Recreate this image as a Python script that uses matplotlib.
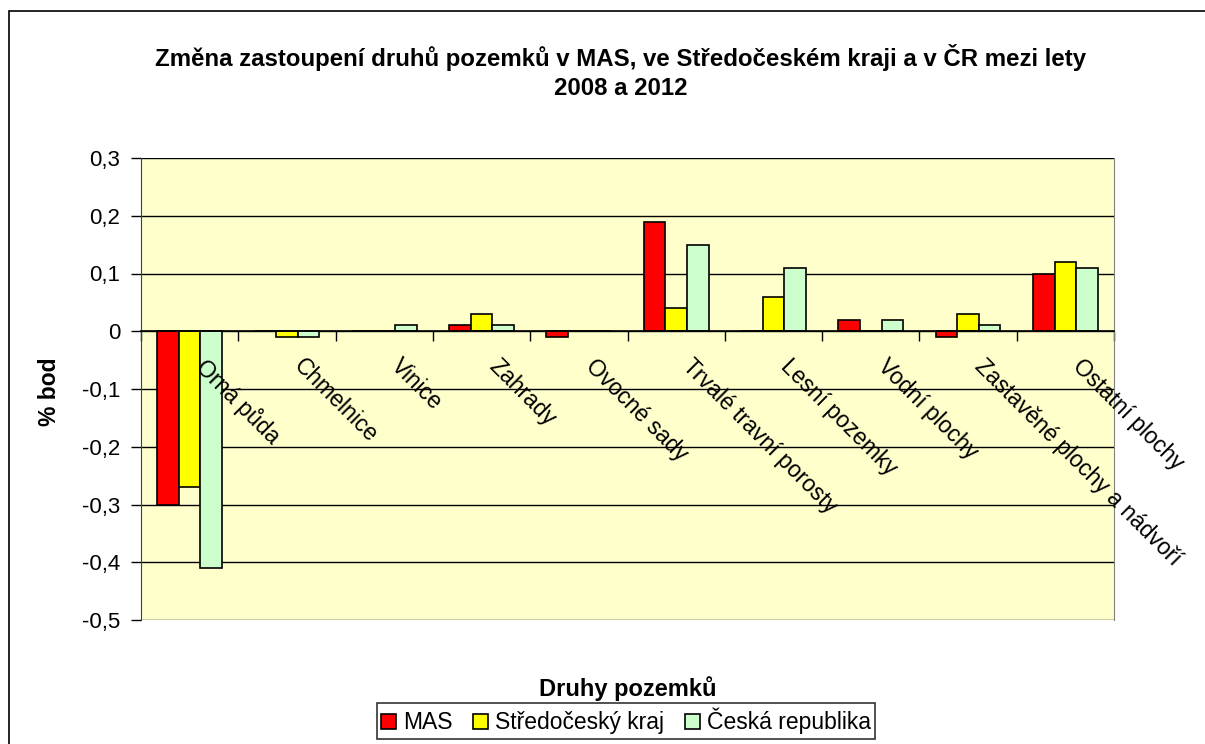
import matplotlib
matplotlib.use('Agg')
import matplotlib.pyplot as plt
import numpy as np
from matplotlib.patches import Rectangle
from matplotlib.ticker import FuncFormatter

plt.rcParams['font.family'] = ['Liberation Sans', 'DejaVu Sans']

# Data
categories = ['Orná půda', 'Chmelnice', 'Vinice', 'Zahrady', 'Ovocné sady',
              'Trvalé travní porosty', 'Lesní pozemky', 'Vodní plochy',
              'Zastavěné plochy a nádvoří', 'Ostatní plochy']
series_names = ['MAS', 'Středočeský kraj', 'Česká republika']
mas = [-0.30, 0.00, 0.00, 0.01, -0.01, 0.19, 0.00, 0.02, -0.01, 0.10]
stredocesky = [-0.27, -0.01, 0.00, 0.03, 0.00, 0.04, 0.06, 0.00, 0.03, 0.12]
cr = [-0.41, -0.01, 0.01, 0.01, 0.00, 0.15, 0.11, 0.02, 0.01, 0.11]
colors = ['#FF0000', '#FFFF00', '#CCFFCC']

title = 'Změna zastoupení druhů pozemků v MAS, ve Středočeském kraji a v ČR mezi lety\n2008 a 2012'


def fmt_tick(v, pos):
    v = round(v, 1) + 0.0
    if v == 0:
        return '0'
    return ('%g' % v).replace('.', ',')


W, H = 1205, 744
fig = plt.figure(figsize=(W / 100, H / 100), dpi=100)
ax = fig.add_axes([141 / W, 1 - 620 / H, (1114 - 141) / W, (620 - 158) / H])
ax.set_facecolor('#FFFFCC')

# outer chart frame
fig.patches.append(Rectangle((9 / W, -0.1), 1.2, 1.1 - 11 / H, transform=fig.transFigure,
                             fill=False, edgecolor='black', linewidth=1.2))

x = np.arange(len(categories))
w = 0.222
for k, (vals, name) in enumerate(zip([mas, stredocesky, cr], series_names)):
    ax.bar(x + (k - 1) * w, vals, w, color=colors[k], edgecolor='black',
           linewidth=1.2, label=name, zorder=3)

ax.set_xlim(-0.5, len(categories) - 0.5)
ax.set_ylim(-0.5, 0.3)
yt = np.round(np.arange(-0.5, 0.31, 0.1), 1)
ax.set_yticks(yt)
ax.yaxis.set_major_formatter(FuncFormatter(fmt_tick))
for v in yt:
    ax.axhline(v, color='black', linewidth=1.0, zorder=1)

# category axis sits on zero
ax.spines['bottom'].set_position(('data', 0))
ax.spines['bottom'].set_linewidth(1.2)
ax.spines['bottom'].set_zorder(4)
ax.spines['top'].set_visible(False)
ax.spines['right'].set_color('#808080')
ax.spines['left'].set_color('#404040')
ax.set_xticks(np.arange(-0.5, len(categories), 1.0))
ax.set_xticklabels([])
ax.tick_params(axis='x', direction='out', length=7, width=1)
ax.tick_params(axis='y', direction='out', length=7, width=1, labelsize=16, pad=8)

for i, c in enumerate(categories):
    ax.text(i + 0.19, -0.04, c, rotation=-45, rotation_mode='anchor',
            ha='left', va='top', fontsize=16.5, zorder=5)

fig.text(621 / W, 1 - 72 / H, title, ha='center', va='center', fontsize=17.3,
         fontweight='bold', linespacing=1.35)
fig.text(50 / W, 1 - 392 / H, '% bod', rotation=90, ha='center', va='center',
         fontsize=16.5, fontweight='bold')
fig.text(628 / W, 1 - 689 / H, 'Druhy pozemků', ha='center', va='center',
         fontsize=17, fontweight='bold')

leg = fig.legend(loc='center', bbox_to_anchor=(626 / W, 1 - 721 / H), ncol=3,
                 fontsize=16.5, frameon=True, fancybox=False, edgecolor='black',
                 handlelength=0.65, handleheight=0.65, handletextpad=0.3,
                 columnspacing=0.9, borderpad=0.2, borderaxespad=0)
leg.get_frame().set_linewidth(1.2)

fig.savefig('out.png', dpi=100)
